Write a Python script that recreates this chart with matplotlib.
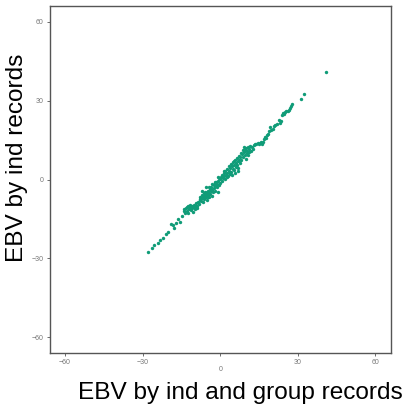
import numpy as np
import matplotlib
matplotlib.use("Agg")
import matplotlib.pyplot as plt

plt.rcParams['font.family'] = ['Liberation Sans', 'DejaVu Sans']

# EBV by ind and group records (x) vs EBV by ind records (y)
ebv_group = [
    -27.9, -26.4, -25.6, -24.2, -23.3, -22.1, -20.8, -20.2, -18.9, -18.3, -17.9, -17.0, -16.3, -15.7, -14.8,
    -14.2, -13.9, -13.5, -13.3, -13.0, -12.8, -12.5, -12.3, -12.0, -11.8, -11.6, -11.3, -11.0, -10.8, -10.5,
    -10.3, -10.0, -9.8, -9.5, -9.3, -9.0, -8.8, -8.6, -8.3, -8.0,
    -7.8, -7.6, -7.4, -7.2, -7.0, -6.8, -6.6, -6.4, -6.2, -6.0, -5.8, -5.6, -5.4, -5.2, -5.0, -4.8, -4.6,
    -4.4, -4.2, -4.0, -3.8, -3.6, -3.4, -3.2, -3.0, -2.8, -2.6, -2.4, -2.2, -2.0, -1.8, -1.6, -1.4, -1.2,
    -1.0, -0.8, -0.6, -0.4, -0.2, 0.0, -5.5, -4.3, -3.3, -2.1, -6.9, -1.5, -0.9, -7.7, -6.3, -5.1, -4.7, -3.7,
    0.3, 0.5, 0.8, 1.0, 1.3, 1.5, 1.8, 2.0, 2.2, 2.5, 2.8, 3.0, 3.2, 3.4, 3.6, 3.8, 4.0, 4.2, 4.4, 4.6, 4.8,
    5.0, 5.2, 5.4, 5.6, 5.8, 6.0, 6.2, 6.4, 6.6, 6.8, 7.0, 7.2, 7.4, 7.6, 7.8, 8.0, 8.2, 8.4, 8.6, 8.8, 9.0,
    9.2, 9.4, 9.6, 9.8, 10.0, 10.2, 10.4, 10.6, 10.8, 11.0, 11.3, 11.6, 11.9, 12.2, 12.6, 3.9, 5.3, 6.9, 2.7, 1.6,
    13.2, 13.6, 14.0, 14.4, 14.8, 15.2, 15.6, 16.0, 16.4, 16.8, 17.2, 17.6, 18.0, 18.4, 18.7, 19.2, 19.6, 20.2,
    20.8, 21.2, 22.0, 22.8, 23.2, 23.6, 24.0, 24.4, 24.8, 25.2, 25.6, 26.0, 26.4, 26.8, 27.2, 27.6, 31.2, 32.4, 40.9,
]
ebv_ind = [
    -27.4, -26.2, -25.1, -24.1, -23.2, -22.2, -20.6, -20.1, -17.1, -17.2, -18.6, -16.4, -15.2, -16.0, -13.8,
    -12.0, -11.2, -12.6, -11.0, -10.5, -11.8, -10.2, -12.9, -11.1, -10.6, -9.7, -11.6, -10.9, -9.9, -12.2,
    -10.4, -9.6, -11.3, -10.1, -8.8, -9.9, -11.0, -8.5, -9.4, -7.9,
    -6.5, -8.2, -7.0, -5.8, -6.9, -8.6, -6.2, -5.1, -7.4, -6.0, -4.8, -6.6, -5.4, -7.8, -4.6, -5.9, -4.2,
    -6.8, -5.0, -3.6, -5.6, -4.4, -2.8, -6.1, -3.9, -4.8, -2.2, -3.4, -1.4, -4.2, -2.6, -0.8, -3.0, -1.6,
    -4.8, -0.4, -2.0, 0.4, -1.2, 0.2, -2.8, -3.0, -1.8, -0.9, -4.4, -1.9, 0.9, -7.5, -7.0, -5.2, -6.6, -3.6,
    1.0, -0.4, 1.6, 0.5, 2.4, 1.2, 0.3, 3.2, 1.8, 4.0, 2.6, 1.4, 5.0, 3.3, 2.0, 4.4, 6.0, 3.0, 5.2, 1.8, 4.0,
    6.6, 3.6, 5.4, 2.5, 7.4, 4.8, 6.2, 8.2, 5.6, 7.0, 4.5, 9.0, 7.6, 6.2, 8.6, 10.2, 7.4, 9.6, 11.2, 8.4, 10.6,
    12.2, 9.4, 11.4, 8.0, 12.0, 10.2, 11.0, 9.4, 12.4, 10.6, 11.8, 12.6, 11.0, 12.2, 11.6, 2.4, 7.0, 3.4, 0.8, 3.4,
    13.3, 13.6, 13.4, 13.8, 13.5, 13.9, 14.1, 13.6, 14.3, 15.6, 16.2, 15.8, 16.8, 17.4, 18.6, 19.8, 19.0, 19.4,
    20.2, 20.6, 21.3, 22.6, 21.6, 22.2, 24.4, 25.2, 25.0, 25.6, 26.0, 26.2, 26.6, 27.4, 27.8, 28.6, 30.8, 32.7, 41.1,
]
ticks = [-60, -30, 0, 30, 60]

fig = plt.figure(figsize=(4.06, 4.08), dpi=100)
ax = fig.add_axes([0.122, 0.135, 0.841, 0.850])

ax.scatter(ebv_group, ebv_ind, s=6, color='#109c78', linewidths=0)

ax.set_xlim(-66, 66)
ax.set_ylim(-66, 66)
ax.set_xticks(ticks)
ax.set_yticks(ticks)
ax.set_xticklabels([str(t).replace('-', '\u2212') for t in ticks])
ax.set_yticklabels([str(t).replace('-', '\u2212') for t in ticks])
ax.tick_params(labelsize=5, colors='#555555', length=2.5, width=0.6, pad=2)
for lab in ax.get_xticklabels():
    lab.set_color('#777777')
for lab in ax.get_yticklabels():
    lab.set_color('#777777')
# the "0" label on the x axis sits a bit lower in the original
ax.get_xticklabels()[2].set_y(-0.02)
for s in ax.spines.values():
    s.set_color('#555555')
    s.set_linewidth(1.0)

fig.text(0.043, 0.613, 'EBV by ind records', rotation=90, fontsize=17.6,
         ha='center', va='center')
fig.text(0.993, 0.037, 'EBV by ind and group records', fontsize=17.6,
         ha='right', va='center')

fig.savefig('out.png', dpi=100)
